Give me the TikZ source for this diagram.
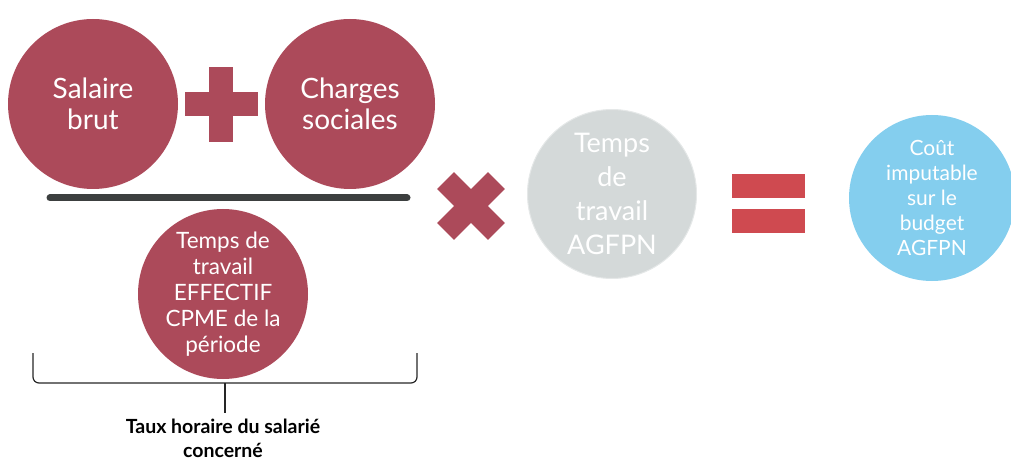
\documentclass[tikz,border=0pt]{standalone}
\usepackage{fontspec}
\setmainfont{Lato}
\usepackage{tikz}
\usetikzlibrary{calc,positioning,shapes}
\definecolor{wine}{HTML}{AC4A5A}
\definecolor{eqred}{HTML}{CF4A50}
\definecolor{barline}{HTML}{3C3F3F}
\definecolor{ashgray}{HTML}{D4D9D9}
\definecolor{skyblue}{HTML}{84CEEE}
\tikzstyle{bubble} = [circle, inner sep=0pt, align=center, text=white]
\tikzstyle{opsign} = [fill=wine]

\begin{document}
\begin{tikzpicture}[x=1pt, y=-1pt]
\useasboundingbox (0,0) rectangle (1011,462);

\node (node0) [bubble,fill=wine,minimum size=170pt,font=\fontsize{28}{31}\selectfont] at (93,104) {Salaire\\brut};
\node (node1) [bubble,fill=wine,minimum size=170pt,font=\fontsize{28}{31}\selectfont,right of=node0, node distance=257pt] {Charges\\sociales};

% plus
\fill [opsign] (209,67) rectangle (233,142);
\fill [opsign] (185,92) rectangle (258,116);

% fraction bar
\draw [barline, line width=7pt, line cap=round] (50,198) -- (407,198);

\node (node2) [bubble,fill=wine,minimum size=170pt,font=\fontsize{22.5}{26}\selectfont] at (223,294) {Temps de\\travail\\EFFECTIF\\CPME de la\\p\'eriode};

% brace
\draw [black!85, line width=1.2pt, rounded corners=6pt] (33,353) |- (225,383) -| (417,353);
\draw [black!85, line width=1.2pt] (225,383) -- (225,413);
\node (node5) [align=center,font=\fontsize{19.5}{24}\selectfont\bfseries,below of=node2, node distance=144pt] {Taux horaire du salari\'e\\concern\'e};

% times
\fill [opsign, rotate around={45:(471,206)}] (435,194) rectangle (507,218);
\fill [opsign, rotate around={-45:(471,206)}] (435,194) rectangle (507,218);

\node (node3) [bubble,fill=ashgray,draw=ashgray!60,line width=1pt,minimum size=169pt,font=\fontsize{27}{34}\selectfont] at (612,194) {Temps\\de\\travail\\AGFPN};

% equals
\fill [eqred] (732,174) rectangle (805,198);
\fill [eqred] (732,209) rectangle (805,233);

\node (node4) [bubble,fill=skyblue,minimum size=166pt,font=\fontsize{21}{25}\selectfont] at (932,198) {Co\^ut\\imputable\\sur le\\budget\\AGFPN};

\end{tikzpicture}
\end{document}
